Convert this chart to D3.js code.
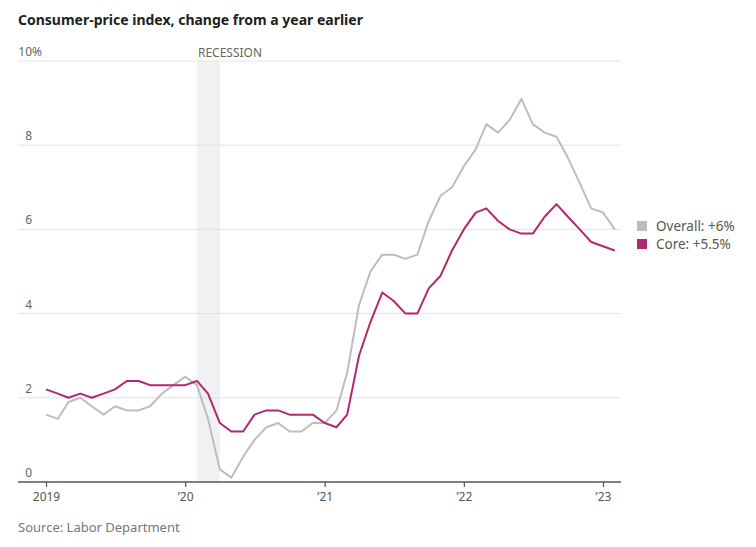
<!DOCTYPE html>
<html>
<head>
<meta charset="utf-8">
<script src="https://cdn.jsdelivr.net/npm/d3@7"></script>
<style>
  body { margin: 0; background: #fff; }
  text { font-family: "Noto Sans", sans-serif; }
</style>
</head>
<body>
<svg id="chart"></svg>
<script>
// monthly CPI change from a year earlier, Jan 2019 - Feb 2023
const overall = [
  1.6, 1.5, 1.9, 2.0, 1.8, 1.6, 1.8, 1.7, 1.7, 1.8, 2.1, 2.3,
  2.5, 2.3, 1.5, 0.3, 0.1, 0.6, 1.0, 1.3, 1.4, 1.2, 1.2, 1.4,
  1.4, 1.7, 2.6, 4.2, 5.0, 5.4, 5.4, 5.3, 5.4, 6.2, 6.8, 7.0,
  7.5, 7.9, 8.5, 8.3, 8.6, 9.1, 8.5, 8.3, 8.2, 7.7, 7.1, 6.5,
  6.4, 6.0
];
const core = [
  2.2, 2.1, 2.0, 2.1, 2.0, 2.1, 2.2, 2.4, 2.4, 2.3, 2.3, 2.3,
  2.3, 2.4, 2.1, 1.4, 1.2, 1.2, 1.6, 1.7, 1.7, 1.6, 1.6, 1.6,
  1.4, 1.3, 1.6, 3.0, 3.8, 4.5, 4.3, 4.0, 4.0, 4.6, 4.9, 5.5,
  6.0, 6.4, 6.5, 6.2, 6.0, 5.9, 5.9, 6.3, 6.6, 6.3, 6.0, 5.7,
  5.6, 5.5
];
const yTicks = [0, 2, 4, 6, 8, 10];
const xTicks = [2019, 2020, 2021, 2022, 2023];
const xTickLabels = ["2019", "\u201920", "\u201921", "\u201922", "\u201923"];
const recession = [new Date(2020, 1, 1), new Date(2020, 3, 1)];
const legend = [
  { name: "Overall: +6%", color: "#bdbdbd" },
  { name: "Core: +5.5%", color: "#b3276f" }
];

const width = 756, height = 547;
const margin = { top: 61, left: 18, bottom: 65, right: 135 };

const svg = d3.select("#chart").attr("width", width).attr("height", height);

const dates = overall.map((_, i) => new Date(2019, i, 1));

const x = d3.scaleTime()
  .domain([new Date(2019, 0, 1), new Date(2023, 0, 1)])
  .range([46, 603]);

const y = d3.scaleLinear()
  .domain([0, 10])
  .range([height - margin.bottom, margin.top]);

// title
svg.append("text")
  .attr("x", 18).attr("y", 25)
  .attr("font-size", 14).attr("font-weight", 700).attr("fill", "#222")
  .text("Consumer-price index, change from a year earlier");

// recession band
svg.append("rect")
  .attr("x", x(recession[0]))
  .attr("y", y(10))
  .attr("width", x(recession[1]) - x(recession[0]))
  .attr("height", y(0) - y(10))
  .attr("fill", "#f0f1f3");

svg.append("text")
  .attr("x", x(recession[0]) + 1).attr("y", y(10) - 4)
  .attr("font-size", 12).attr("fill", "#666")
  .text("RECESSION");

// grid
const grid = svg.append("g");
grid.selectAll("line").data(yTicks.filter(d => d > 0)).enter().append("line")
  .attr("x1", 18).attr("x2", 621)
  .attr("y1", d => y(d)).attr("y2", d => y(d))
  .attr("stroke", "#e3e3e3").attr("stroke-width", 1);

grid.selectAll("text.num").data(yTicks).enter().append("text")
  .attr("class", "num")
  .attr("x", 32).attr("y", d => y(d) - 5)
  .attr("text-anchor", "end")
  .attr("font-size", 12).attr("fill", "#666")
  .text(d => d);

// the % hangs to the right of the top label
grid.append("text")
  .attr("x", 32).attr("y", y(10) - 5)
  .attr("font-size", 12).attr("fill", "#666")
  .text("%");

// x axis
const xAxis = svg.append("g")
  .attr("transform", `translate(0,${y(0)})`)
  .call(d3.axisBottom(x)
    .tickValues(xTicks.map(yr => new Date(yr, 0, 1)))
    .tickFormat((d, i) => xTickLabels[i])
    .tickSize(5)
    .tickSizeOuter(0));
xAxis.select(".domain").attr("d", "M18,0H621").attr("stroke", "#555").attr("stroke-width", 1.5);
xAxis.selectAll(".tick line").attr("stroke", "#555").attr("stroke-width", 1.2);
xAxis.selectAll(".tick text")
  .attr("font-family", "Noto Sans, sans-serif")
  .attr("font-size", 12).attr("fill", "#555").attr("dy", "0.9em");

// lines
const line = d3.line()
  .x((d, i) => x(dates[i]))
  .y(d => y(d));

svg.append("path").datum(overall)
  .attr("d", line).attr("fill", "none")
  .attr("stroke", legend[0].color).attr("stroke-width", 2)
  .attr("stroke-linejoin", "round");

svg.append("path").datum(core)
  .attr("d", line).attr("fill", "none")
  .attr("stroke", legend[1].color).attr("stroke-width", 2)
  .attr("stroke-linejoin", "round");

// legend
const lg = svg.append("g").selectAll("g").data(legend).enter().append("g")
  .attr("transform", (d, i) => `translate(637,${221 + i * 18})`);
lg.append("rect").attr("width", 10).attr("height", 10).attr("fill", d => d.color);
lg.append("text").attr("x", 19).attr("y", 10)
  .attr("font-size", 13.5).attr("fill", "#555")
  .text(d => d.name);

// source
svg.append("text")
  .attr("x", 18).attr("y", 532)
  .attr("font-size", 13).attr("fill", "#777")
  .text("Source: Labor Department");
</script>
</body>
</html>
